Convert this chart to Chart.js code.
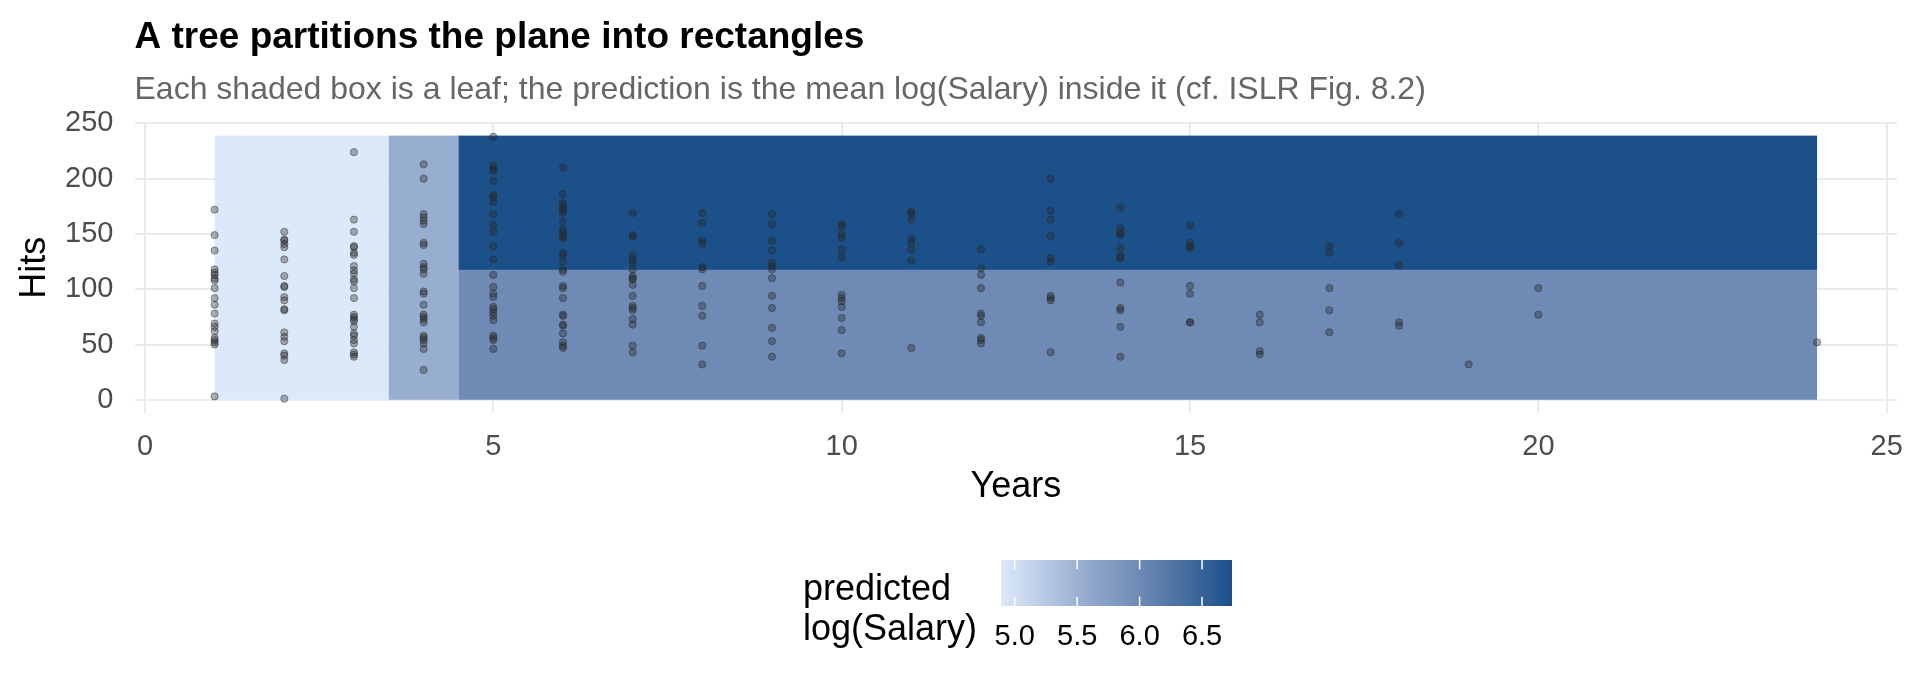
<!DOCTYPE html>
<html>
<head>
<meta charset="utf-8">
<title>A tree partitions the plane into rectangles</title>
<script src="https://cdn.jsdelivr.net/npm/chart.js@4.4.1/dist/chart.umd.min.js"></script>
<style>
  html, body { margin: 0; padding: 0; background: #ffffff; }
  #wrap { width: 1920px; height: 691px; }
</style>
</head>
<body>
<div id="wrap"><canvas id="treeChart" width="1920" height="691"></canvas></div>
<script>
// axis breaks
const xTicks = [0, 5, 10, 15, 20, 25];
const yTicks = [0, 50, 100, 150, 200, 250];
const legendTicks = [5.0, 5.5, 6.0, 6.5];

// players: Years (x) and the Hits of every player with that many years
const pointYears = [1, 2, 3, 4, 5, 6, 7, 8, 9, 10, 11, 12, 13, 14, 15, 16, 17, 18, 19, 20, 24];
const pointHits = [
    [172, 149, 135, 118, 115, 113, 110, 108, 101, 92, 86, 78, 69, 66, 62, 56, 54, 52, 50, 3],
    [152, 145, 144, 141, 138, 127, 112, 103, 102, 93, 90, 82, 81, 61, 57, 53, 42, 40, 36, 1],
    [224, 163, 152, 139, 138, 133, 131, 121, 117, 114, 109, 107, 101, 92, 77, 75, 73, 71, 66, 60, 58, 54, 51, 43, 41, 39],
    [213, 200, 168, 165, 162, 159, 142, 140, 123, 120, 118, 114, 98, 96, 86, 77, 75, 73, 70, 58, 56, 54, 51, 46, 27],
    [238, 212, 209, 207, 198, 185, 183, 179, 168, 158, 152, 139, 127, 113, 102, 96, 93, 84, 82, 79, 76, 72, 58, 56, 54, 46],
    [210, 186, 178, 176, 173, 171, 169, 161, 154, 151, 148, 146, 133, 131, 125, 118, 116, 103, 101, 92, 77, 76, 68, 67, 60, 52, 49, 47],
    [169, 149, 148, 131, 127, 124, 118, 112, 110, 109, 104, 94, 85, 83, 81, 73, 68, 49, 43],
    [169, 160, 144, 141, 120, 118, 103, 85, 76, 49, 32],
    [168, 159, 144, 135, 124, 121, 118, 110, 94, 83, 65, 53, 39],
    [159, 157, 150, 147, 136, 129, 95, 92, 89, 84, 74, 63, 42],
    [170, 169, 163, 146, 142, 136, 126, 47],
    [136, 119, 113, 101, 78, 76, 70, 56, 54, 51],
    [200, 171, 163, 148, 128, 125, 94, 92, 90, 43],
    [174, 155, 151, 149, 137, 130, 128, 106, 83, 81, 66, 39],
    [158, 142, 139, 137, 103, 96, 70, 70],
    [77, 70, 44, 41],
    [139, 133, 101, 81, 61],
    [168, 142, 122, 70, 67],
    [32],
    [101, 77],
    [52]
];

// leaves of the tree (one rectangle each)
const leafXmin = [1, 3.5, 4.5, 4.5];
const leafXmax = [3.5, 4.5, 24, 24];
const leafYmin = [0, 0, 0, 117.5];
const leafYmax = [239, 239, 117.5, 239];
const leafPred = [4.89, 5.54, 6.00, 6.74];

// fill gradient, position 0..1 along the prediction range
const gradStops = [0, 0.35, 0.6, 1];
const gradColours = [[220, 233, 250], [152, 174, 208], [110, 138, 181], [28, 80, 137]];
const predMin = Math.min(...leafPred);
const predMax = Math.max(...leafPred);

function fillFor(v) {
    const t = Math.min(1, Math.max(0, (v - predMin) / (predMax - predMin)));
    let k = 0;
    while (k < gradStops.length - 2 && t > gradStops[k + 1]) k++;
    const f = (t - gradStops[k]) / (gradStops[k + 1] - gradStops[k]);
    const c = gradColours[k].map((lo, i) => Math.round(lo + (gradColours[k + 1][i] - lo) * f));
    return "rgb(" + c.join(",") + ")";
}

// ggplot style 5% expansion
const xLo = Math.min(...pointYears, ...leafXmin), xHi = Math.max(...pointYears, ...leafXmax);
const yLo = Math.min(...pointHits.flat(), ...leafYmin), yHi = Math.max(...pointHits.flat(), ...leafYmax);
const xPad = (xHi - xLo) * 0.05, yPad = (yHi - yLo) * 0.05;

const points = [];
pointYears.forEach((yr, i) => {
    pointHits[i].forEach(h => points.push({ x: yr, y: h }));
});

const FONT = "'Liberation Sans', Arial, Helvetica, sans-serif";

const leafBoxes = {
    id: "leafBoxes",
    beforeDatasetsDraw(chart) {
        const { ctx, scales: { x, y } } = chart;
        ctx.save();
        leafPred.forEach((p, i) => {
            const x0 = x.getPixelForValue(leafXmin[i]);
            const x1 = x.getPixelForValue(leafXmax[i]);
            const y0 = y.getPixelForValue(leafYmin[i]);
            const y1 = y.getPixelForValue(leafYmax[i]);
            ctx.fillStyle = fillFor(p);
            ctx.fillRect(x0, y1, x1 - x0, y0 - y1);
        });
        ctx.restore();
    }
};

// colour bar legend under the plot
const colourBar = {
    id: "colourBar",
    afterDraw(chart) {
        const ctx = chart.ctx;
        const left = 1001, top = 560, w = 231, h = 46;
        const toX = v => left + (v - predMin) / (predMax - predMin) * w;
        ctx.save();
        const grad = ctx.createLinearGradient(left, 0, left + w, 0);
        gradStops.forEach(s => grad.addColorStop(s, fillFor(predMin + s * (predMax - predMin))));
        ctx.fillStyle = grad;
        ctx.fillRect(left, top, w, h);

        ctx.strokeStyle = "#ffffff";
        ctx.lineWidth = 1.5;
        legendTicks.forEach(v => {
            const tx = toX(v);
            ctx.beginPath();
            ctx.moveTo(tx, top); ctx.lineTo(tx, top + h / 5);
            ctx.moveTo(tx, top + h); ctx.lineTo(tx, top + h - h / 5);
            ctx.stroke();
        });

        ctx.fillStyle = "#000000";
        ctx.font = "29px " + FONT;
        ctx.textAlign = "center";
        ctx.textBaseline = "alphabetic";
        legendTicks.forEach(v => ctx.fillText(v.toFixed(1), toX(v), 645));

        ctx.font = "36px " + FONT;
        ctx.textAlign = "left";
        ctx.fillText("predicted", 803, 600);
        ctx.fillText("log(Salary)", 803, 640);
        ctx.restore();
    }
};

const ctx = document.getElementById("treeChart").getContext("2d");
new Chart(ctx, {
    type: "scatter",
    data: {
        datasets: [{
            data: points,
            pointRadius: 3.6,
            pointHoverRadius: 3.6,
            backgroundColor: "rgba(40,40,40,0.36)",
            borderColor: "rgba(40,40,40,0.45)",
            borderWidth: 1
        }]
    },
    options: {
        responsive: false,
        animation: false,
        devicePixelRatio: 1,
        layout: { padding: { left: 0, right: 21, top: 0, bottom: 0 } },
        plugins: {
            legend: { display: false },
            tooltip: { enabled: false },
            title: {
                display: true,
                text: "A tree partitions the plane into rectangles",
                align: "start",
                fullSize: false,
                color: "#000000",
                font: { family: FONT, size: 37, weight: "bold", lineHeight: 1.2 },
                padding: { top: 15.5, bottom: 0 }
            },
            subtitle: {
                display: true,
                text: "Each shaded box is a leaf; the prediction is the mean log(Salary) inside it (cf. ISLR Fig. 8.2)",
                align: "start",
                fullSize: false,
                color: "#666666",
                font: { family: FONT, size: 32, lineHeight: 1.2 },
                padding: { top: 10.7, bottom: 13.4 }
            }
        },
        scales: {
            x: {
                type: "linear",
                min: xLo - xPad,
                max: xHi + xPad,
                afterBuildTicks: s => { s.ticks = xTicks.map(v => ({ value: v })); },
                afterFit: s => { s.height = 278; },
                border: { display: false },
                grid: { color: "#EBEBEB", lineWidth: 2, drawTicks: false },
                ticks: { padding: 17, color: "#4D4D4D", font: { family: FONT, size: 29 } },
                title: {
                    display: true, text: "Years", color: "#000000",
                    font: { family: FONT, size: 36, lineHeight: 1.2 },
                    padding: { top: 0, bottom: 182 }
                }
            },
            y: {
                type: "linear",
                min: yLo - yPad,
                max: yHi + yPad,
                afterBuildTicks: s => { s.ticks = yTicks.map(v => ({ value: v })); },
                afterFit: s => { s.width = 134.5; },
                border: { display: false },
                grid: { color: "#EBEBEB", lineWidth: 2, drawTicks: false },
                ticks: { padding: 21, color: "#4D4D4D", font: { family: FONT, size: 29 } },
                title: {
                    display: true, text: "Hits", color: "#000000",
                    font: { family: FONT, size: 36, lineHeight: 1.2 },
                    padding: { top: 13, bottom: 0 }
                }
            }
        }
    },
    plugins: [leafBoxes, colourBar]
});
</script>
</body>
</html>
